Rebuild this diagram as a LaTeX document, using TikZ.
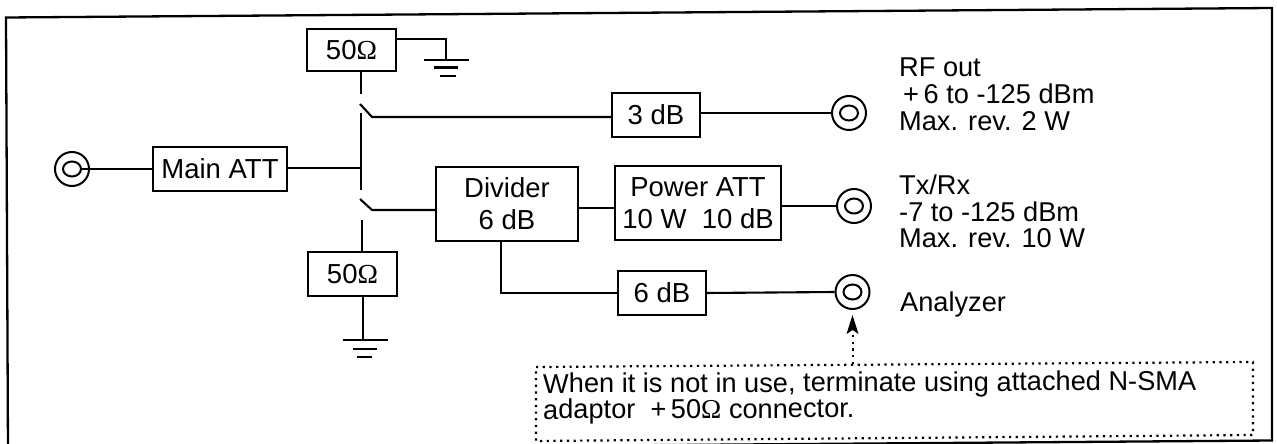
\documentclass[tikz,border=0pt]{standalone}
\usepackage{fontspec}
\setmainfont{Liberation Sans}
\newfontfamily\omegafont{Liberation Serif}
\usetikzlibrary{arrows.meta,shapes.geometric}
\newcommand{\Ohm}{{\omegafont Ω}}
\tikzset{
  px/.style={x=1pt,y=-1pt},
  wire/.style={line width=2.1pt,black},
  blockbox/.style={draw=black,line width=2.3pt,fill=white,inner sep=0pt,align=center,font=\fontsize{27.5}{32}\selectfont},
  jack/.style={draw=black,line width=2pt,circle,minimum size=34pt,inner sep=0pt,fill=white},
  jackin/.style={draw=black,line width=2pt,ellipse,minimum width=18pt,minimum height=15pt,inner sep=0pt},
  lab/.style={anchor=base west,inner sep=0pt,font=\fontsize{27.2}{32}\selectfont},
  note/.style={anchor=base west,inner sep=0pt,font=\fontsize{27.2}{32}\selectfont,rotate=0.25},
  dots/.style={line width=2.2pt,dash pattern=on 2.2pt off 4.5pt,black}
}
\begin{document}
\begin{tikzpicture}[px]
\useasboundingbox (0,0) rectangle (1277,444);
\clip (0,0) rectangle (1277,444);
\fill[white] (0,0) rectangle (1277,444);
% frame
\coordinate (f1) at (6,17.5);
\coordinate (f2) at (1272,8);
\coordinate (f3) at (1272,440.5);
\coordinate (f4) at (8,450);
\draw[line width=2.3pt,black] (f4) -- (f1) -- (f2) -- (f3) -- (f4);
% blocks
\node[blockbox,minimum width=89pt,minimum height=42pt] (rtop) at (351.5,50) {50\Ohm};
\node[blockbox,minimum width=89pt,minimum height=44pt] (rbot) at (352.5,274) {50\Ohm};
\node[blockbox,minimum width=134pt,minimum height=44pt] (main) at (220,169) {Main ATT};
\node[blockbox,minimum width=88pt,minimum height=44pt] (db3) at (656,115) {3 dB};
\node[blockbox,minimum width=142pt,minimum height=74pt] (div) at (507,204) {Divider\\6 dB};
\node[blockbox,minimum width=166pt,minimum height=74pt] (pow) at (698,203) {Power ATT\\10 W\ \ 10 dB};
\node[blockbox,minimum width=88pt,minimum height=44pt] (db6) at (662,293) {6 dB};
% jacks
\node[jack] (jin) at (72,169) {};
\node[jackin] (jini) at (72,169) {};
\node[jack] (jrf) at (849,113) {};
\node[jackin] (jrfi) at (849,113) {};
\node[jack] (jtx) at (854,206) {};
\node[jackin] (jtxi) at (854,206) {};
\node[jack] (jan) at (852.5,292) {};
\node[jackin] (jani) at (852.5,292) {};
% switch points
\coordinate (s0) at (361,71);
\coordinate (s1) at (361,94);
\coordinate (b1a) at (360,104);
\coordinate (b1b) at (372,117);
\coordinate (s2) at (361,113);
\coordinate (s3) at (361,190);
\coordinate (j) at (361,168);
\coordinate (b2a) at (360,199);
\coordinate (b2b) at (372,210);
\coordinate (s4) at (362,220);
\coordinate (s5) at (362,252);
% wires
\draw[wire] (s0) -- (s1);
\draw[wire] (b1a) -- (b1b) -- (b1b -| db3.west);
\draw[wire] (s2) -- (s3);
\draw[wire] (main.east |- j) -- (j);
\draw[wire] (b2a) -- (b2b) -- (b2b -| div.west);
\draw[wire] (s4) -- (s5);
\draw[wire] (jini.east) -- (main.west);
\draw[wire] (db3.east) ++(0,-2) -- (jrf.west);
\draw[wire] (pow.east) ++(0,3) -- (jtx.west);
\draw[wire] (div.east) ++(0,4) -- (pow.west |- 578,208);
\draw[wire] (db6.east) -- (jan.west);
\coordinate (d1) at (501,293);
\draw[wire] (div.south -| d1) -- (d1) -- (db6.west);
% top ground
\coordinate (g1a) at (446,39);
\coordinate (g1) at (446,60);
\draw[wire] (rtop.east |- g1a) -- (g1a) -- (g1);
\draw[wire] (424,60) -- (469,60);
\draw[wire] (434,67.5) -- (458,67.5);
\draw[wire] (440,76) -- (456,76);
% bottom ground
\coordinate (g2) at (363,340);
\draw[wire] (rbot.south -| g2) -- (g2);
\draw[wire] (343,340) -- (388,340);
\draw[wire] (353,349) -- (377,349);
\draw[wire] (357,357) -- (372,357);
% labels
\node[lab] (t1) at (899,77) {RF out};
\node[lab] (t2) at (903,103) {+\,6 to -125 dBm};
\node[lab] (t3) at (899,130) {Max. rev. 2 W};
\node[lab] (t4) at (899,194) {Tx/Rx};
\node[lab] (t5) at (899,221) {-7 to -125 dBm};
\node[lab] (t6) at (899,247) {Max. rev. 10 W};
\node[lab] (t7) at (900,311) {Analyzer};
% note
\coordinate (n1) at (536,367);
\coordinate (n2) at (1253,362);
\coordinate (n3) at (1253,435);
\coordinate (n4) at (536,441);
\draw[dots] (n1) -- (n2) -- (n3) -- (n4) -- cycle;
\node[note] (n5) at (543,393) {When it is not in use, terminate using attached N-SMA};
\node[note] (n6) at (543,419) {adaptor\ \ +\,50\Ohm\ connector.};
% arrow
\coordinate (a0) at (853,364);
\coordinate (a1) at (853,334);
\coordinate (a2) at (852.5,315);
\draw[dots] (a0) -- (a1);
\fill[black] (a2) -- (858.5,334) -- (852.5,330) -- (846.5,334) -- cycle;
\end{tikzpicture}
\end{document}
